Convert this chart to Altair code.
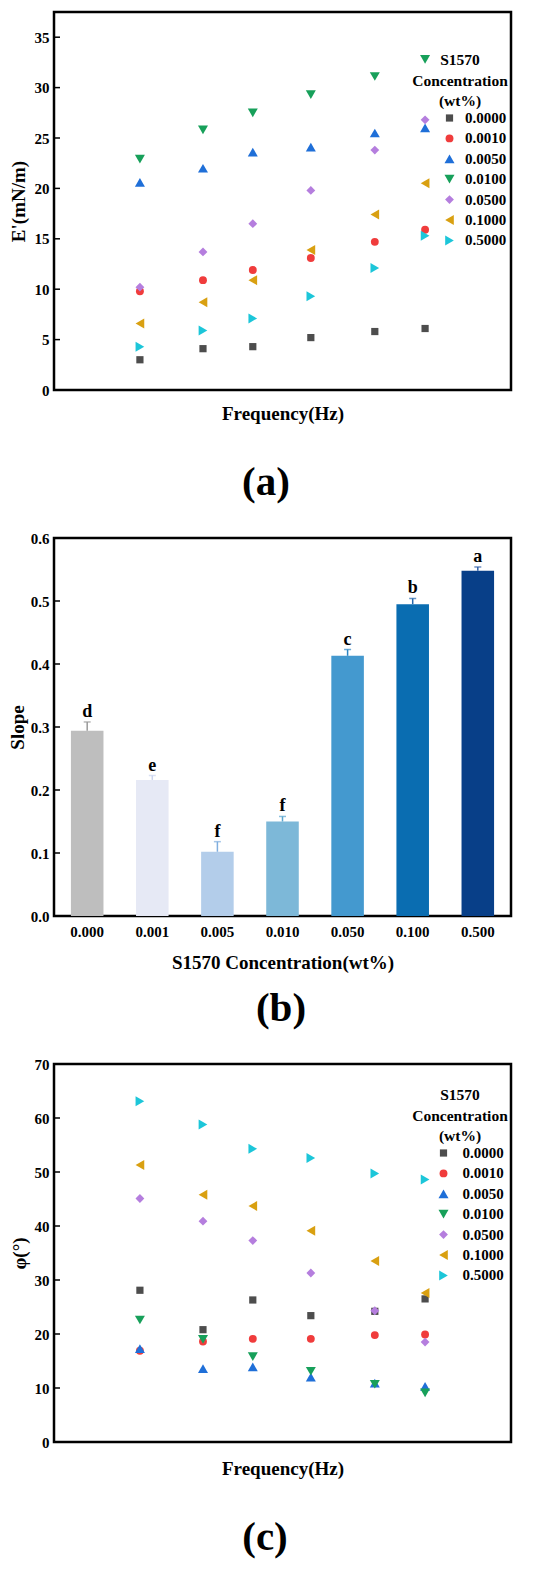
import altair as alt
import pandas as pd

FONT = "Liberation Serif"
W, H = 457, 378

# ---------------- data ----------------
freq_position = [1.88, 3.26, 4.35, 5.62, 7.02, 8.12]   # position along the (unlabelled) frequency axis
conc = ["0.0000", "0.0010", "0.0050", "0.0100", "0.0500", "0.1000", "0.5000"]
shapes = ["square", "circle", "triangle-up", "triangle-down", "diamond", "triangle-left", "triangle-right"]
sizes = [52, 62, 100, 100, 78, 100, 100]
colors = ["#4d4d4d", "#f03c3c", "#1f6fd8", "#17a05a", "#b57ede", "#d9a011", "#1cc6d9"]

# (a) E' (mN/m)
E_0000 = [3.0, 4.1, 4.3, 5.2, 5.8, 6.1]
E_0010 = [9.8, 10.9, 11.9, 13.1, 14.7, 15.9]
E_0050 = [20.6, 22.0, 23.6, 24.1, 25.5, 26.0]
E_0100 = [22.9, 25.8, 27.5, 29.3, 31.1, 32.8]
E_0500 = [10.2, 13.7, 16.5, 19.8, 23.8, 26.8]
E_1000 = [6.6, 8.7, 10.9, 13.9, 17.4, 20.5]
E_5000 = [4.3, 5.9, 7.1, 9.3, 12.1, 15.3]

# (c) phase angle (deg)
P_0000 = [28.1, 20.8, 26.3, 23.4, 24.2, 26.5]
P_0010 = [16.9, 18.6, 19.1, 19.1, 19.8, 19.9]
P_0050 = [17.3, 13.6, 13.9, 12.0, 10.9, 10.3]
P_0100 = [22.6, 19.0, 15.8, 13.1, 10.7, 9.1]
P_0500 = [45.1, 40.9, 37.3, 31.3, 24.3, 18.5]
P_1000 = [51.3, 45.8, 43.7, 39.1, 33.5, 27.6]
P_5000 = [63.1, 58.8, 54.3, 52.6, 49.7, 48.6]

# (b) slope bars
conc_b = ["0.000", "0.001", "0.005", "0.010", "0.050", "0.100", "0.500"]
slope = [0.294, 0.216, 0.102, 0.150, 0.413, 0.495, 0.548]
slope_err = [0.014, 0.007, 0.016, 0.008, 0.010, 0.009, 0.006]
letters = ["d", "e", "f", "f", "c", "b", "a"]
bar_colors = ["#bebebe", "#e6e9f5", "#b3cdea", "#7db8d8", "#4499cf", "#0a6db1", "#083f88"]
err_colors = ["#9a9a9a", "#c9d3ee", "#80aede", "#5aa5cf", "#2d86c4", "#2567ad", "#2f5fa8"]

ticks_a = [0, 5, 10, 15, 20, 25, 30, 35]
ticks_b = [0.0, 0.1, 0.2, 0.3, 0.4, 0.5, 0.6]
ticks_c = [0, 10, 20, 30, 40, 50, 60, 70]


def long_df(series):
    rows = []
    for c, vals in zip(conc, series):
        for f, v in zip(freq_position, vals):
            rows.append({"freq": f, "conc": c, "value": v})
    return pd.DataFrame(rows)


df_a = long_df([E_0000, E_0010, E_0050, E_0100, E_0500, E_1000, E_5000])
df_c = long_df([P_0000, P_0010, P_0050, P_0100, P_0500, P_1000, P_5000])


def scatter_panel(df, ydom, tickvals, ytitle, tpad, xtpad, lx, ly, soff, loff, tag, tagx, tagy):
    yscale = alt.Scale(domain=ydom, nice=False, zero=True)
    yaxis = alt.Axis(title=ytitle, values=tickvals, grid=False, domain=False, ticks=False,
                     tickSize=0, labelPadding=5, titlePadding=tpad)
    legend = alt.Legend(
        orient="none", legendX=lx, legendY=ly, padding=0,
        title=["S1570", "Concentration", "(wt%)"], titleAlign="center", titleAnchor="middle",
        titleFont=FONT, titleFontSize=15.5, titleFontWeight="bold", titleColor="black",
        titleLineHeight=20.5, titlePadding=1,
        labelFont=FONT, labelFontSize=15, labelFontWeight="bold", labelColor="black",
        symbolStrokeWidth=0, symbolOpacity=1,
        symbolOffset=soff, labelOffset=loff, rowPadding=4.4,
    )
    pts = alt.Chart(df).mark_point(filled=True, opacity=1, strokeWidth=0).encode(
        x=alt.X("freq:Q", scale=alt.Scale(domain=[0, 10], nice=False, zero=False),
                axis=alt.Axis(title="Frequency(Hz)", labels=False, ticks=False, domain=False,
                              grid=False, titlePadding=xtpad)),
        y=alt.Y("value:Q", scale=yscale, axis=yaxis),
        color=alt.Color("conc:N", scale=alt.Scale(domain=conc, range=colors), legend=legend),
        shape=alt.Shape("conc:N", scale=alt.Scale(domain=conc, range=shapes), legend=legend),
        size=alt.Size("conc:N", scale=alt.Scale(type="ordinal", domain=conc, range=sizes), legend=legend),
    )
    tk = alt.Chart(pd.DataFrame({"value": tickvals})).mark_rule(color="black", strokeWidth=1.5).encode(
        y=alt.Y("value:Q", scale=yscale, axis=yaxis), x=alt.value(0), x2=alt.value(6)
    )
    lab = alt.Chart(pd.DataFrame({"t": [tag]})).mark_text(
        font=FONT, fontSize=41, fontWeight="bold", color="black", baseline="middle", align="center"
    ).encode(text="t:N", x=alt.value(tagx), y=alt.value(H + tagy))
    return alt.layer(pts, tk, lab).properties(width=W, height=H)


panel_a = scatter_panel(df_a, [0, 37.5], ticks_a, "E'(mN/m)", 6, 14, 358, 41, 29, 8, "(a)", 212, 93)
panel_c = scatter_panel(df_c, [0, 70], ticks_c, "φ(°)", 5, 17, 358, 24, 19, 11.5, "(c)", 211, 96)

# ---------------- panel b ----------------
df_b = pd.DataFrame({"conc": conc_b, "slope": slope, "err": slope_err, "letter": letters})
yscale_b = alt.Scale(domain=[0, 0.6], nice=False)
yaxis_b = alt.Axis(title="Slope", values=ticks_b, format=".1f", grid=False, domain=False,
                   ticks=False, tickSize=0, labelPadding=5, titlePadding=3)
xenc_b = alt.X("conc:N", sort=conc_b, scale=alt.Scale(paddingInner=0.5, paddingOuter=0.26),
               axis=alt.Axis(title="S1570 Concentration(wt%)", labelAngle=0, ticks=False,
                             domain=False, grid=False, labelPadding=8, titlePadding=14))
base_b = alt.Chart(df_b).transform_calculate(top="datum.slope + datum.err")
bars = base_b.mark_bar().encode(
    x=xenc_b, y=alt.Y("slope:Q", scale=yscale_b, axis=yaxis_b),
    fill=alt.Fill("conc:N", scale=alt.Scale(domain=conc_b, range=bar_colors), legend=None),
)
errs = base_b.mark_rule(strokeWidth=1.5).encode(
    x=xenc_b, y=alt.Y("slope:Q", scale=yscale_b, axis=yaxis_b), y2="top:Q",
    color=alt.Color("conc:N", scale=alt.Scale(domain=conc_b, range=err_colors), legend=None),
)
caps = base_b.mark_tick(thickness=1.5, size=7).encode(
    x=xenc_b, y=alt.Y("top:Q", scale=yscale_b, axis=yaxis_b),
    color=alt.Color("conc:N", scale=alt.Scale(domain=conc_b, range=err_colors), legend=None),
)
lets = base_b.mark_text(font=FONT, fontSize=18, fontWeight="bold", color="black", dy=-10,
                        baseline="middle").encode(
    x=xenc_b, y=alt.Y("top:Q", scale=yscale_b, axis=yaxis_b), text="letter:N"
)
tk_b = alt.Chart(pd.DataFrame({"slope": ticks_b})).mark_rule(color="black", strokeWidth=1.5).encode(
    y=alt.Y("slope:Q", scale=yscale_b, axis=yaxis_b), x=alt.value(0), x2=alt.value(6)
)
lab_b = alt.Chart(pd.DataFrame({"t": ["(b)"]})).mark_text(
    font=FONT, fontSize=41, fontWeight="bold", color="black", baseline="middle", align="center"
).encode(text="t:N", x=alt.value(227), y=alt.value(H + 93))
panel_b = alt.layer(bars, errs, caps, lets, tk_b, lab_b).properties(width=W, height=H)

chart = alt.vconcat(panel_a, panel_b, panel_c, spacing=24).resolve_scale(
    x="independent", y="independent", color="independent", shape="independent",
    fill="independent", size="independent"
).properties(
    padding={"left": -1, "top": 2, "right": 0, "bottom": 0}, background="white"
).configure_view(
    stroke="black", strokeWidth=2.5
).configure_axis(
    labelFont=FONT, labelFontSize=15, labelFontWeight="bold", labelColor="black",
    titleFont=FONT, titleFontSize=19, titleFontWeight="bold", titleColor="black",
).configure_text(font=FONT)

chart.save("out.html", embed_options={"renderer": "svg", "actions": False})
